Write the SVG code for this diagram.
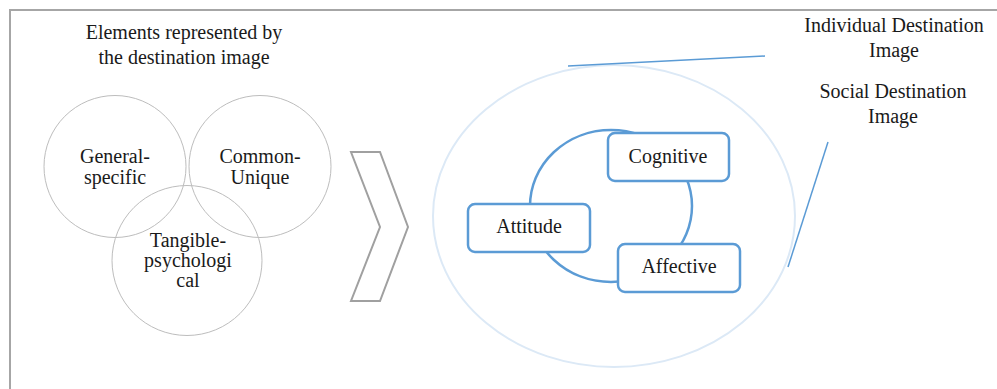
<svg xmlns="http://www.w3.org/2000/svg" width="997" height="389" viewBox="0 0 997 389" font-family="Liberation Serif, Times New Roman, serif" font-size="20">
<style>
text{fill:#1a1a1a;text-anchor:middle}
.venn{fill:none;stroke:#bdbdbd;stroke-width:1}
.box{fill:#fff;stroke:#5b9bd5;stroke-width:2.5}
.blue{stroke:#5b9bd5;fill:none}
</style>
<rect width="997" height="389" fill="#fff"/>
<g id="frame"><path d="M10,389 V10 H997" fill="none" stroke="#a6a6a6" stroke-width="2"/></g>
<g id="title" font-family="Liberation Serif"><text x="184" y="39">Elements represented by</text><text x="184" y="64">the destination image</text></g>
<g id="venn-general"><circle class="venn" cx="115" cy="166.5" r="71"/></g>
<g id="venn-common"><circle class="venn" cx="260" cy="166.5" r="71"/></g>
<g id="venn-tangible"><circle class="venn" cx="187" cy="260.5" r="75"/></g>
<g id="venn-labels" font-family="Liberation Serif">
<text x="115" y="163">General-</text><text x="115" y="184">specific</text>
<text x="260" y="163">Common-</text><text x="260" y="184">Unique</text>
<text x="188" y="247">Tangible-</text><text x="188" y="267">psychologi</text><text x="188" y="287">cal</text>
</g>
<g id="chevron"><polygon points="351,152 380,152 408,227 380,301 351,301 380,227" fill="#fff" stroke="#a0a0a0" stroke-width="2"/></g>
<g id="outer-ellipse"><ellipse cx="614" cy="216" rx="181" ry="151" fill="none" stroke="#dce9f6" stroke-width="2"/></g>
<g id="connectors">
<ellipse class="blue" cx="611" cy="206" rx="81" ry="76" stroke-width="2.5"/>
<line class="blue" x1="568" y1="66" x2="765" y2="56" stroke-width="1.5"/>
<line class="blue" x1="828" y1="142" x2="788" y2="267" stroke-width="1.5"/>
</g>
<g id="cognitive" font-family="Liberation Serif"><rect class="box" x="608" y="133" width="121" height="48" rx="7"/><text x="668" y="163">Cognitive</text></g>
<g id="attitude" font-family="Liberation Serif"><rect class="box" x="468" y="204" width="122" height="48" rx="7"/><text x="529" y="233">Attitude</text></g>
<g id="affective" font-family="Liberation Serif"><rect class="box" x="618" y="244" width="122" height="48" rx="7"/><text x="679" y="273">Affective</text></g>
<g id="individual" font-family="Liberation Serif"><text x="894" y="32">Individual Destination</text><text x="894" y="57">Image</text></g>
<g id="social" font-family="Liberation Serif"><text x="893" y="98">Social Destination</text><text x="893" y="123">Image</text></g>
</svg>
